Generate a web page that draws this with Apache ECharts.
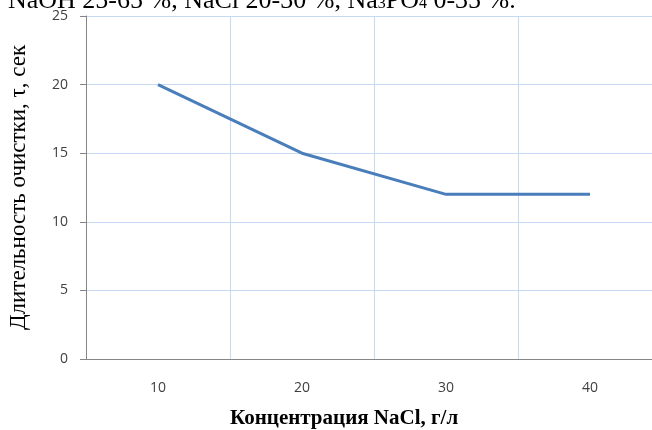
<!DOCTYPE html>
<html>
<head>
<meta charset="utf-8">
<script src="https://cdn.jsdelivr.net/npm/echarts@6/dist/echarts.min.js"></script>
<style>
  html, body { margin: 0; padding: 0; background: #fff; overflow: hidden; }
  #vis { width: 662px; height: 430px; }
</style>
</head>
<body>
<div id="vis"></div>
<script>
// data
const concentrations = ['10', '20', '30', '40'];
const cleanTimes = [20, 15, 12, 12];
const yTicks = { min: 0, max: 25, interval: 5 };

const chart = echarts.init(document.getElementById('vis'));

const options = {
  animation: false,
  grid: { left: 86, right: 0, top: 16, bottom: 71, containLabel: false, outerBoundsMode: 'none' },
  xAxis: {
    type: 'category',
    data: concentrations,
    boundaryGap: true,
    axisLine: { lineStyle: { color: '#868686' } },
    axisTick: { show: false },
    axisLabel: { margin: 22, color: '#404040', fontFamily: 'Open Sans', fontSize: 14 },
    splitLine: { show: true, lineStyle: { color: '#c6d9f1', width: 1 } }
  },
  yAxis: {
    type: 'value',
    min: yTicks.min,
    max: yTicks.max,
    interval: yTicks.interval,
    name: 'Длительность очистки, τ, сек',
    nameLocation: 'middle',
    nameGap: 56,
    nameTextStyle: { fontFamily: 'Liberation Serif', fontSize: 23, color: '#000' },
    axisLine: { show: true, lineStyle: { color: '#868686' } },
    axisTick: { show: true, length: 6, lineStyle: { color: '#868686' } },
    axisLabel: { margin: 18, color: '#404040', fontFamily: 'Open Sans', fontSize: 14 },
    splitLine: { lineStyle: { color: '#c6d9f1', width: 1 } }
  },
  graphic: [
    {
      type: 'text',
      left: 8,
      top: -12,
      style: {
        text: 'NaOH 25-65 %, NaCl 20-30 %, Na{sub|3}PO{sub|4} 0-35 %.',
        font: '26px "Liberation Serif"',
        fill: '#000',
        rich: {
          sub: { fontFamily: 'Liberation Serif', fontSize: 16, padding: [0, 0, -6, 0] }
        }
      }
    },
    {
      type: 'text',
      left: 230,
      top: 408,
      style: {
        text: 'Концентрация NaCl, г/л',
        font: 'bold 21px "Liberation Serif"',
        fill: '#000'
      }
    }
  ],
  series: [
    {
      type: 'line',
      data: cleanTimes,
      showSymbol: false,
      symbol: 'none',
      lineStyle: { color: '#4a7ebb', width: 3 }
    }
  ]
};

chart.setOption(options);
</script>
</body>
</html>
